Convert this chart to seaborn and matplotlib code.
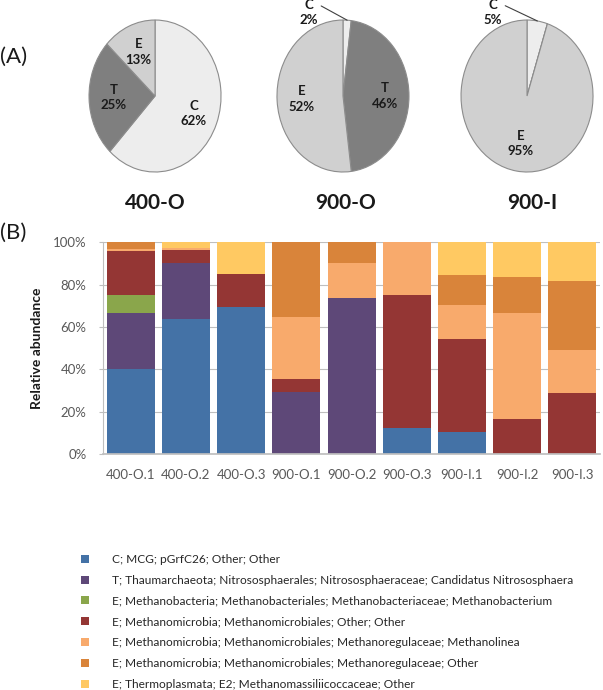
import numpy as np
import pandas as pd
import matplotlib
matplotlib.use('Agg')
import matplotlib.pyplot as plt
import seaborn as sns
from matplotlib.patches import Patch
from matplotlib.ticker import PercentFormatter

# (A) pie data
pie_groups = ['400-O', '900-O', '900-I']
pie_labels = ['C', 'T', 'E']
pie_values = [[62, 25, 13], [2, 46, 52], [5, 0, 95]]
pie_colors = ['#EDEDED', '#7F7F7F', '#D0D0D0']

# (B) stacked bar data (percent)
samples = ['400-O.1', '400-O.2', '400-O.3', '900-O.1', '900-O.2',
           '900-O.3', '900-I.1', '900-I.2', '900-I.3']
taxa = ['C; MCG; pGrfC26; Other; Other',
        'T; Thaumarchaeota; Nitrososphaerales; Nitrososphaeraceae; Candidatus Nitrososphaera',
        'E; Methanobacteria; Methanobacteriales; Methanobacteriaceae; Methanobacterium',
        'E; Methanomicrobia; Methanomicrobiales; Other; Other',
        'E; Methanomicrobia; Methanomicrobiales; Methanoregulaceae; Methanolinea',
        'E; Methanomicrobia; Methanomicrobiales; Methanoregulaceae; Other',
        'E; Thermoplasmata; E2; Methanomassiliicoccaceae; Other']
mcg = [40.3, 63.6, 69.4, 0, 0, 12.4, 10.5, 0, 0]
nitrososphaera = [26.3, 26.7, 0, 29.4, 73.6, 0, 0, 0, 0]
methanobacterium = [8.6, 0, 0, 0, 0, 0, 0, 0, 0]
methanomicrobiales_other = [20.7, 5.9, 15.5, 5.9, 0, 62.8, 44.0, 16.6, 29.0]
methanolinea = [1.0, 1.0, 0, 29.4, 16.5, 24.8, 15.7, 50.0, 20.3]
methanoregulaceae_other = [3.1, 0, 0, 35.3, 9.9, 0, 14.1, 16.9, 32.5]
methanomassiliicoccaceae = [0, 2.8, 15.1, 0, 0, 0, 15.7, 16.5, 18.2]
bar_colors = ['#4472A6', '#5E4878', '#8AA64B', '#943634',
              '#F8AA6C', '#D9843A', '#FFC962']

sns.set_theme(style='white')
plt.rcParams['font.family'] = ['Lato', 'DejaVu Sans']

fig = plt.figure(figsize=(6.03, 6.9), dpi=100)

# ---- pies ----
pie_lefts = [0.1367, 0.4484, 0.7536]
pie_centers_x = [0.257, 0.573, 0.882]
for i, (name, vals) in enumerate(zip(pie_groups, pie_values)):
    ax = fig.add_axes([pie_lefts[i], 0.7397, 0.2408, 0.2423])
    ax.pie(vals, colors=pie_colors, startangle=90, counterclock=False,
           wedgeprops=dict(edgecolor='#8C8C8C', linewidth=0.8))
    ax.set_aspect('auto')
    ax.set_xlim(-1.1, 1.1)
    ax.set_ylim(-1.1, 1.1)
    fr = np.array(vals) / np.sum(vals)
    start = 90 - 360 * np.cumsum(np.r_[0, fr[:-1]])
    mid = np.deg2rad(start - 360 * fr / 2)
    for lab, f, a in zip(pie_labels, fr, mid):
        if f == 0:
            continue
        txt = f'{lab}\n{f * 100:.0f}%'
        if f < 0.06:
            ax.annotate(txt, xy=(np.cos(a), np.sin(a)), xytext=(-0.52, 1.1),
                        ha='center', va='center', fontsize=9.5, fontweight='bold',
                        linespacing=1.35, color='#1a1a1a',
                        arrowprops=dict(arrowstyle='-', color='#404040', lw=0.8,
                                        relpos=(1, 0.8), shrinkA=0, shrinkB=0))
        else:
            ax.text(0.63 * np.cos(a), 0.63 * np.sin(a), txt, ha='center', va='center',
                    fontsize=9.5, fontweight='bold', linespacing=1.35, color='#1a1a1a')
    fig.text(pie_centers_x[i], 0.706, name, ha='center', va='center',
             fontsize=15, fontweight='bold', color='#1a1a1a')

fig.text(0.0, 0.918, '(A)', ha='left', va='center', fontsize=16, color='#1a1a1a')
fig.text(0.0, 0.662, '(B)', ha='left', va='center', fontsize=16, color='#1a1a1a')

# ---- stacked bars ----
df = pd.DataFrame({'sample': samples})
for t, v in zip(taxa, [mcg, nitrososphaera, methanobacterium, methanomicrobiales_other,
                       methanolinea, methanoregulaceae_other, methanomassiliicoccaceae]):
    df[t] = v
cum = df[taxa].cumsum(axis=1)

ax = fig.add_axes([0.171, 0.342, 0.824, 0.307])
for t, c in reversed(list(zip(taxa, bar_colors))):
    sns.barplot(x=df['sample'], y=cum[t], color=c, width=0.87, saturation=1,
                errorbar=None, linewidth=0, edgecolor='none', ax=ax)
ax.set_xlim(-0.5, 8.5)
ax.set_ylim(0, 100)
ax.set_yticks([0, 20, 40, 60, 80, 100])
ax.yaxis.set_major_formatter(PercentFormatter(100, decimals=0))
ax.yaxis.grid(True, color='#BFBFBF', linewidth=0.8)
ax.set_axisbelow(True)
for s in ['top', 'right']:
    ax.spines[s].set_visible(False)
ax.spines['bottom'].set_color('#BFBFBF')
ax.spines['left'].set_color('#BFBFBF')
ax.spines['left'].set_linewidth(0.8)
ax.tick_params(axis='y', labelsize=9.5, labelcolor='#595959', color='#BFBFBF',
               pad=9, length=3, width=0.8, left=True)
ax.tick_params(axis='x', labelsize=9.5, labelcolor='#595959', pad=11, length=0)
ax.set_xlabel('')
ax.set_ylabel('Relative abundance', fontsize=10, fontweight='bold', color='#1a1a1a', labelpad=7)

handles = [Patch(facecolor=c, edgecolor='none') for c in bar_colors]
fig.legend(handles, taxa, loc='upper left', bbox_to_anchor=(0.134, 0.197),
           frameon=False, fontsize=8.6, handlelength=0.65, handleheight=0.65,
           handletextpad=2.0, labelspacing=0.82, borderpad=0, borderaxespad=0,
           labelcolor='#262626')

fig.savefig('out.png', dpi=100)
